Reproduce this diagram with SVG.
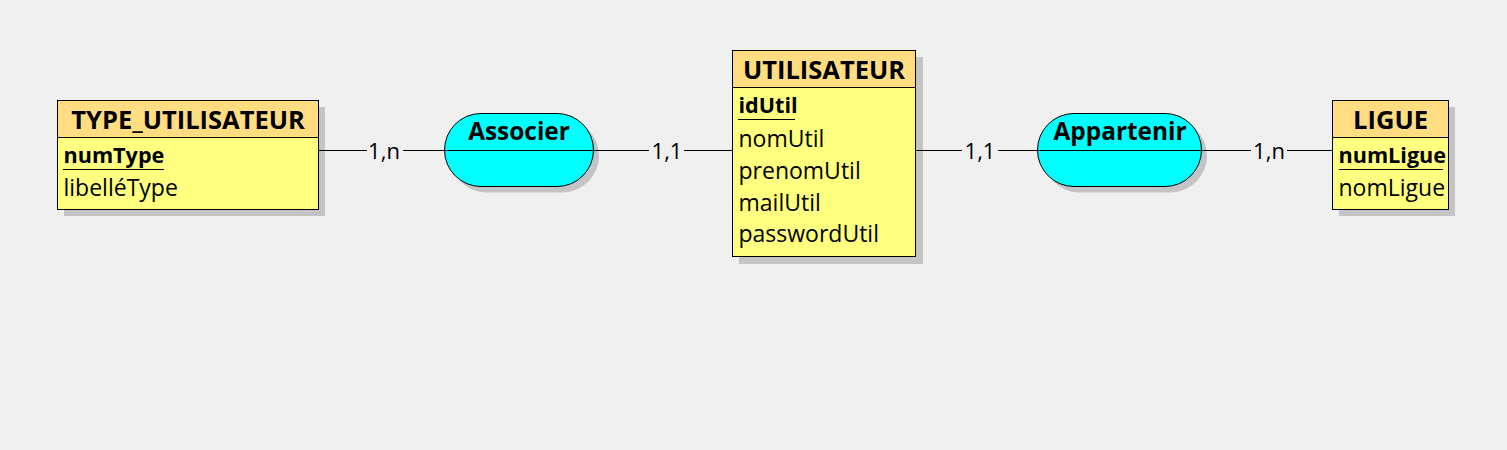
<svg xmlns="http://www.w3.org/2000/svg" width="1507" height="450" viewBox="0 0 1507 450">
<style>
.bg{fill:#F0F0F0}
.shadow{fill:#C4C4C4}
.head{fill:#FFDD80;stroke:#000;stroke-width:1}
.body{fill:#FFFF80;stroke:#000;stroke-width:1}
.assoc{fill:#00FFFF;stroke:#000;stroke-width:1}
.line{stroke:#000;stroke-width:1;fill:none}
.title{font-family:"Open Sans","Noto Sans",sans-serif;font-weight:bold;font-size:25.5px;fill:#000;text-anchor:middle}
.aname{font-family:"Open Sans","Noto Sans",sans-serif;font-weight:bold;font-size:24.4px;fill:#000;text-anchor:middle}
.attr{font-family:"Open Sans","Noto Sans",sans-serif;font-size:23px;fill:#000}
.key{font-family:"Open Sans","Noto Sans",sans-serif;font-size:21.6px;font-weight:bold;fill:#000}
.card{font-family:"Open Sans","Noto Sans",sans-serif;font-size:22px;fill:#000;text-anchor:middle}
.lblbg{fill:#F0F0F0}
</style>
<rect class="bg" x="0" y="0" width="1507" height="450"/>

<g id="shadows">
  <rect class="shadow" x="64" y="107" width="261" height="109"/>
  <rect class="shadow" x="450" y="119" width="149" height="73.5" rx="36.7"/>
  <rect class="shadow" x="739" y="57" width="184" height="207"/>
  <rect class="shadow" x="1043" y="119" width="164" height="73.5" rx="36.7"/>
  <rect class="shadow" x="1339" y="107" width="116" height="109"/>
</g>

<g id="connectors">
  <line class="line" x1="318" y1="150.5" x2="444" y2="150.5"/>
  <rect class="lblbg" x="367" y="138" width="36" height="26"/>
  <text class="card" x="384" y="159">1,n</text>
  <line class="line" x1="593" y1="150.5" x2="732" y2="150.5"/>
  <rect class="lblbg" x="649" y="138" width="35" height="26"/>
  <text class="card" x="667" y="159">1,1</text>
  <line class="line" x1="915" y1="150.5" x2="1038" y2="150.5"/>
  <rect class="lblbg" x="962" y="138" width="36" height="26"/>
  <text class="card" x="980" y="159">1,1</text>
  <line class="line" x1="1202" y1="150.5" x2="1332" y2="150.5"/>
  <rect class="lblbg" x="1251" y="138" width="36" height="26"/>
  <text class="card" x="1269" y="159">1,n</text>
</g>

<g id="TYPE_UTILISATEUR">
  <rect class="body" x="57.5" y="100.5" width="261" height="109"/>
  <rect class="head" x="57.5" y="100.5" width="261" height="37"/>
  <text class="title" x="188" y="129">TYPE_UTILISATEUR</text>
  <text class="key" x="63.5" y="163">numType</text>
  <line class="line" x1="63" y1="169.5" x2="164" y2="169.5"/>
  <text class="attr" x="63.5" y="195.5">libelléType</text>
</g>

<g id="Associer">
  <rect class="assoc" x="444.5" y="113.5" width="149" height="73" rx="36.5"/>
  <line class="line" x1="444.5" y1="150.5" x2="593.5" y2="150.5"/>
  <text class="aname" x="519" y="140">Associer</text>
</g>

<g id="UTILISATEUR">
  <rect class="body" x="732.5" y="50.5" width="183" height="206"/>
  <rect class="head" x="732.5" y="50.5" width="183" height="37"/>
  <text class="title" x="824" y="79">UTILISATEUR</text>
  <text class="key" x="738.5" y="113">idUtil</text>
  <line class="line" x1="738" y1="119.5" x2="795" y2="119.5"/>
  <text class="attr" x="738.5" y="146.5">nomUtil</text>
  <text class="attr" x="738.5" y="178.5">prenomUtil</text>
  <text class="attr" x="738.5" y="211">mailUtil</text>
  <text class="attr" x="738.5" y="242">passwordUtil</text>
</g>

<g id="Appartenir">
  <rect class="assoc" x="1037.5" y="113.5" width="164" height="73" rx="36.5"/>
  <line class="line" x1="1037.5" y1="150.5" x2="1201.5" y2="150.5"/>
  <text class="aname" x="1120" y="140">Appartenir</text>
</g>

<g id="LIGUE">
  <rect class="body" x="1332.5" y="100.5" width="116" height="109"/>
  <rect class="head" x="1332.5" y="100.5" width="116" height="37"/>
  <text class="title" x="1390.5" y="129">LIGUE</text>
  <text class="key" x="1338.5" y="163">numLigue</text>
  <line class="line" x1="1339" y1="169.5" x2="1443" y2="169.5"/>
  <text class="attr" x="1338.5" y="195.5">nomLigue</text>
</g>
</svg>
